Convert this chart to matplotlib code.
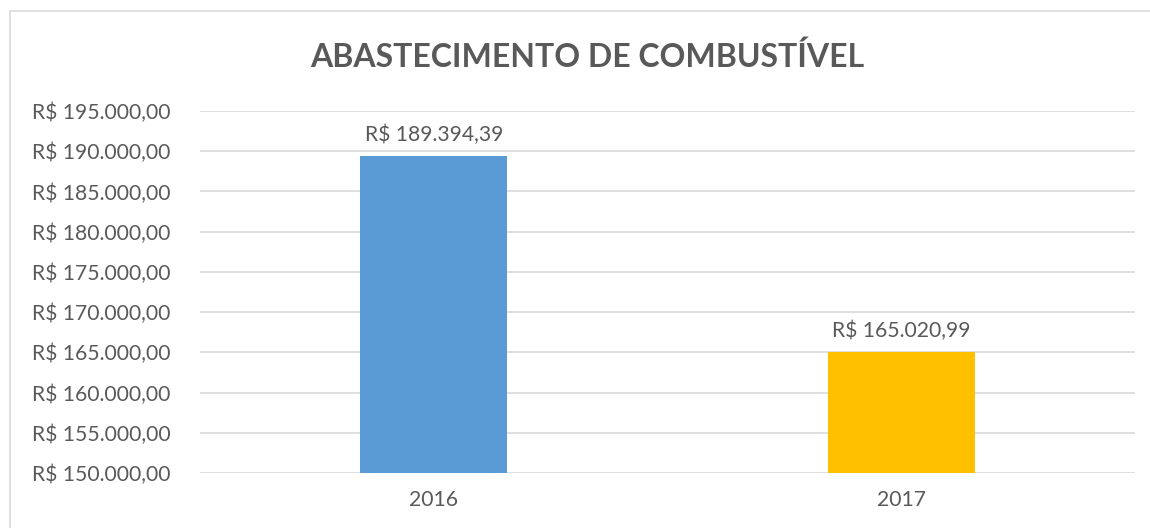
import matplotlib.pyplot as plt
from matplotlib.patches import Rectangle

years = ["2016", "2017"]
values = [189394.39, 165020.99]
colors = ["#5B9BD5", "#FFC000"]
y_ticks = list(range(150000, 195001, 5000))


def brl(v):
    s = f"{v:,.2f}".replace(",", "X").replace(".", ",").replace("X", ".")
    return "R$ " + s


plt.rcParams['font.family'] = ['Lato', 'DejaVu Sans']
text_color = "#595959"

fig = plt.figure(figsize=(11.5, 5.28), dpi=100)
ax = fig.add_axes([200 / 1150, 1 - 473 / 528, 935 / 1150, 362 / 528])

# chart frame (right/bottom edges fall outside the picture)
fig.patches.append(Rectangle((9.5 / 1150, -0.1), 1.2, 1 - 11.5 / 528 + 0.1,
                             transform=fig.transFigure, fill=False,
                             edgecolor="#D9D9D9", linewidth=1.2))

x = range(len(years))
bars = ax.bar(x, values, width=0.314, color=colors, zorder=3)
for b, v in zip(bars, values):
    ax.annotate(brl(v), (b.get_x() + b.get_width() / 2, v),
                xytext=(0, 8), textcoords="offset points",
                ha="center", va="bottom", fontsize=15.2, color=text_color)

ax.set_xlim(-0.5, 1.5)
ax.set_ylim(150000, 195000)
ax.set_yticks(y_ticks)
ax.set_yticklabels([brl(t) for t in y_ticks])
ax.set_xticks(list(x))
ax.set_xticklabels(years)
ax.tick_params(axis="both", length=0, labelsize=15.2, labelcolor=text_color)
ax.tick_params(axis="y", pad=21)
ax.tick_params(axis="x", pad=12)
ax.grid(axis="y", color="#D9D9D9", linewidth=1.2, zorder=0)
for s in ax.spines.values():
    s.set_visible(False)

fig.text(587.5 / 1150, 1 - 57 / 528, "ABASTECIMENTO DE COMBUSTÍVEL",
         ha="center", va="center", fontsize=23, fontweight="bold", color=text_color)

fig.savefig("out.png", dpi=100)
